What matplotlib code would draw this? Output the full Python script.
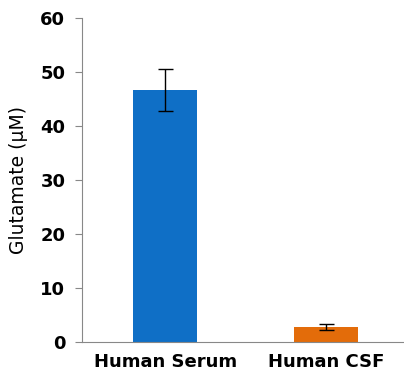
import matplotlib.pyplot as plt

samples = ["Human Serum", "Human CSF"]
glutamate = [46.6, 2.8]
sd = [3.9, 0.6]
colors = ["#0F6FC6", "#E36C0A"]

plt.rcParams['font.family'] = ['DejaVu Sans']

fig = plt.figure(figsize=(4.04, 3.80), dpi=100)
ax = fig.add_axes([0.203, 0.10, 0.797, 0.853])

x = range(len(samples))
ax.bar(x, glutamate, width=0.4, color=colors, zorder=2)
ax.errorbar(x, glutamate, yerr=sd, fmt='none', ecolor='black',
            elinewidth=1.0, capsize=5.4, capthick=1.0, zorder=3)

ax.set_xlim(-0.516, 1.484)
ax.set_ylim(0, 60)
ax.set_yticks(range(0, 61, 10))
ax.set_xticks(list(x))
ax.set_xticklabels(samples, fontsize=13, fontweight='bold')
ax.tick_params(axis='x', length=0, pad=8)
ax.tick_params(axis='y', length=5, color='#888888', labelsize=13, pad=7)
for lbl in ax.get_yticklabels():
    lbl.set_fontweight('bold')

ax.set_ylabel("Glutamate (µM)", fontsize=13.5, labelpad=9)

for side in ['top', 'right']:
    ax.spines[side].set_visible(False)
ax.spines['left'].set_color('#888888')
ax.spines['bottom'].set_color('#888888')

fig.savefig("out.png", dpi=100)
